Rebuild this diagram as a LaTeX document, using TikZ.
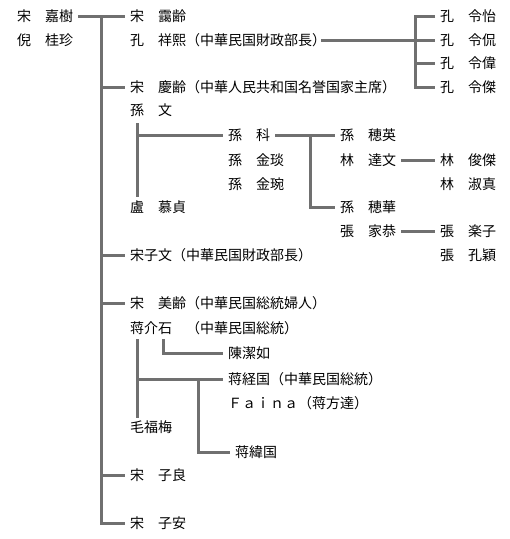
\documentclass[tikz,border=0pt]{standalone}
\usepackage{fontspec}
\usepackage{xcolor}
\usepackage{tikz}
\usetikzlibrary{calc}
\newfontfamily\cjk{Noto Sans CJK JP}
\definecolor{linegray}{RGB}{112,112,112}

\begin{document}
\begin{tikzpicture}[
    x=1pt, y=-1pt,
    person/.style={anchor=west, inner xsep=5pt, inner ysep=0pt,
      text height=12pt, text depth=2pt, font={\cjk\fontsize{14}{16}\selectfont}},
    rel/.style={draw=linegray, line width=3pt}
]
\useasboundingbox[fill=white] (0,0) rectangle (510,539);

\node[person] (jiashu) at (12,16) {宋　嘉樹};
\node[person] (guizhen) at (12,40) {倪　桂珍};

\node[person] (ailing) at (125,16) {宋　靄齢};
\node[person] (xiangxi) at (125,40) {孔　祥熙（中華民国財政部長）};
\node[person] (lingyi) at (435,16) {孔　令怡};
\node[person] (lingkan) at (435,40) {孔　令侃};
\node[person] (lingwei) at (435,63) {孔　令偉};
\node[person] (lingjie) at (435,87) {孔　令傑};

\node[person] (qingling) at (125,87) {宋　慶齢（中華人民共和国名誉国家主席）};
\node[person] (sunwen) at (125,110) {孫　文};
\node[person] (sunke) at (223,135) {孫　科};
\node[person] (jinyan) at (223,160) {孫　金琰};
\node[person] (jinwan) at (223,184) {孫　金琬};
\node[person] (lumuzhen) at (125,207) {盧　慕貞};
\node[person] (suiying) at (335,135) {孫　穂英};
\node[person] (dawen) at (335,160) {林　達文};
\node[person] (suihua) at (335,207) {孫　穂華};
\node[person] (jiagong) at (335,231) {張　家恭};
\node[person] (junjie) at (435,160) {林　俊傑};
\node[person] (shuzhen) at (435,184) {林　淑真};
\node[person] (lezi) at (435,231) {張　楽子};
\node[person] (kongying) at (435,255) {張　孔穎};

\node[person] (ziwen) at (125,255) {宋子文（中華民国財政部長）};

\node[person] (meiling) at (125,303) {宋　美齢（中華民国総統婦人）};
\node[person] (jieshi) at (125,328) {蒋介石　（中華民国総統）};
\node[person] (jieru) at (223,353) {陳潔如};
\node[person] (jingguo) at (223,379) {蒋経国（中華民国総統）};
\node[person] (faina) at (223,403) {Ｆａｉｎａ（蒋方達）};
\node[person] (fumei) at (125,427) {毛福梅};
\node[person] (weiguo) at (230,452) {蒋緯国};

\node[person] (ziliang) at (125,475) {宋　子良};
\node[person] (zian) at (125,523) {宋　子安};

\coordinate (trunk) at (101,16);
\coordinate (kongbus) at (415,16);
\coordinate (suntop) at (137,123);
\coordinate (sunbot) at (137,197);
\coordinate (kebus) at (310,135);
\coordinate (chiangtop) at (137,339);
\coordinate (chiangbot) at (137,418);
\coordinate (jieshitail) at (163,339);
\coordinate (weitop) at (198,379);

\draw[rel] (jiashu.east) -- (ailing.west);
\draw[rel] (trunk) |- (zian.west);
\draw[rel] (trunk |- qingling.west) -- (qingling.west);
\draw[rel] (trunk |- ziwen.west) -- (ziwen.west);
\draw[rel] (trunk |- meiling.west) -- (meiling.west);
\draw[rel] (trunk |- ziliang.west) -- (ziliang.west);

\draw[rel] ([xshift=-10pt]xiangxi.east) -- (lingkan.west);
\draw[rel] (lingyi.west) -| (kongbus) |- (lingjie.west);
\draw[rel] (kongbus |- lingwei.west) -- (lingwei.west);

\draw[rel] (suntop) -- (sunbot);
\draw[rel] (suntop |- sunke.west) -- (sunke.west);
\draw[rel] (sunke.east) -- (suiying.west);
\draw[rel] (kebus) |- (suihua.west);
\draw[rel] (dawen.east) -- (junjie.west);
\draw[rel] (jiagong.east) -- (lezi.west);

\draw[rel] (chiangtop) -- (chiangbot);
\draw[rel] (chiangtop |- jingguo.west) -- (jingguo.west);
\draw[rel] (jieshitail) |- (jieru.west);
\draw[rel] (weitop) |- (weiguo.west);
\end{tikzpicture}
\end{document}
